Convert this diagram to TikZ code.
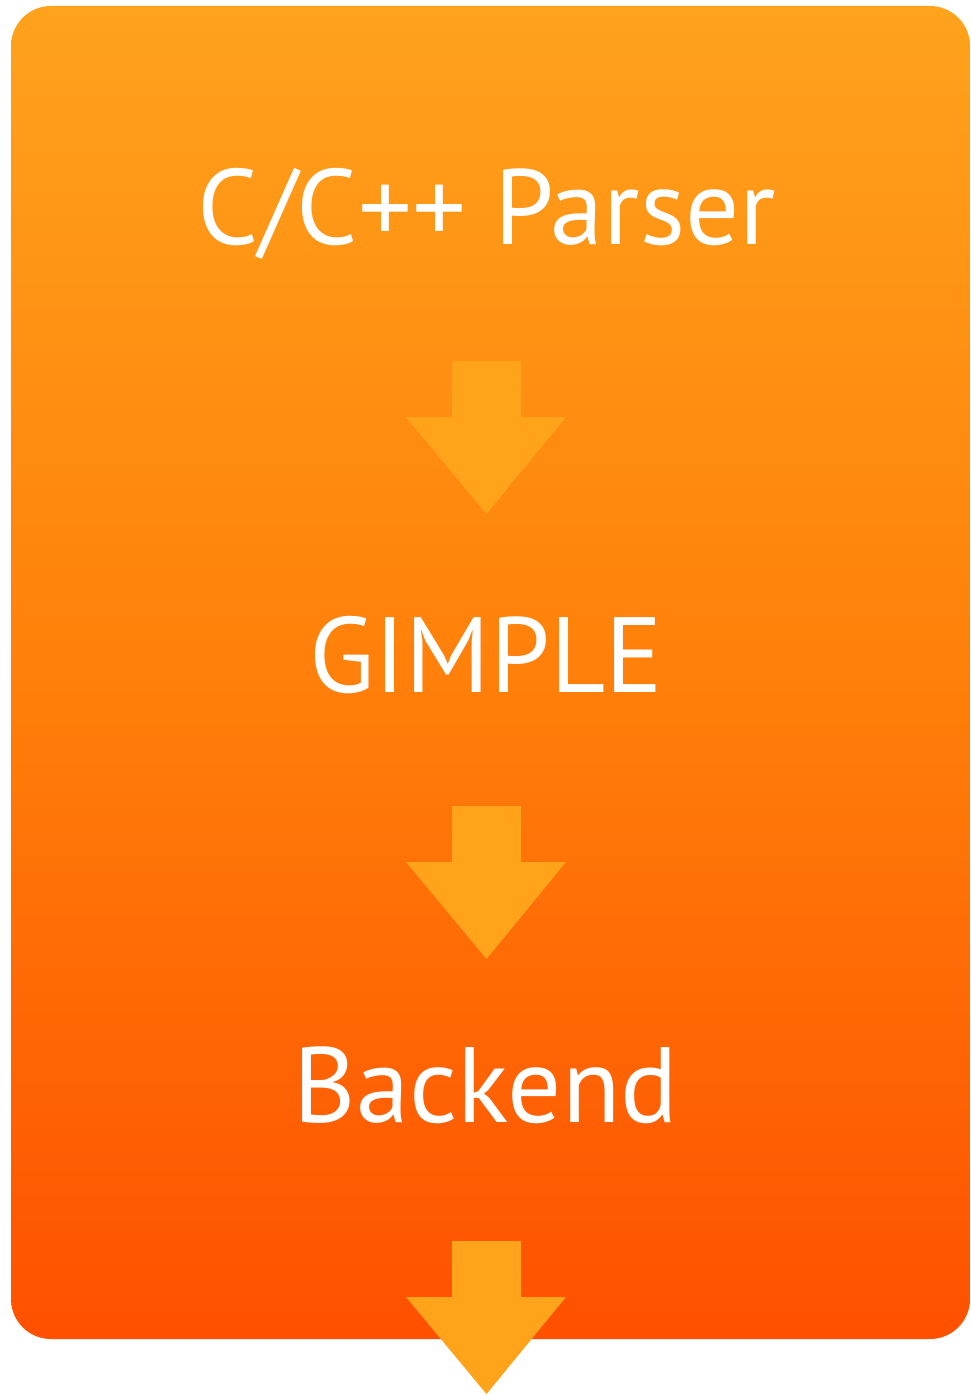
\documentclass[tikz,border=0pt]{standalone}
\usepackage{fontspec}
\setmainfont{PT Sans}
\begin{document}
\begin{tikzpicture}[x=1pt,y=-1pt,
  lbl/.style={text=white,font=\fontsize{107}{112}\selectfont,inner sep=0pt,anchor=base},
  blockarrow/.style={fill=arrowcol,draw=none}]
\definecolor{topc}{RGB}{255,162,28}
\definecolor{midc}{RGB}{255,128,10}
\definecolor{botc}{RGB}{255,80,0}
\definecolor{arrowcol}{RGB}{255,163,26}
\useasboundingbox (0,0) rectangle (970,1396);
\shade[top color=topc,bottom color=botc,middle color=midc,rounded corners=40pt] (11,6) rectangle (970,1339);
% arrows
\foreach \t/\h/\b in {361/417/514, 806/862/959, 1241/1297/1394}{
  \fill[blockarrow] (452,\t) -- (521,\t) -- (521,\h) -- (566,\h) -- (486.5,\b) -- (406,\h) -- (452,\h) -- cycle;
}
\node[lbl] (parser) at (487,245) {C/C++ Parser};
\node[lbl] (gimple) at (486,692) {GIMPLE};
\node[lbl] (backend) at (486,1122) {Backend};
\end{tikzpicture}
\end{document}
